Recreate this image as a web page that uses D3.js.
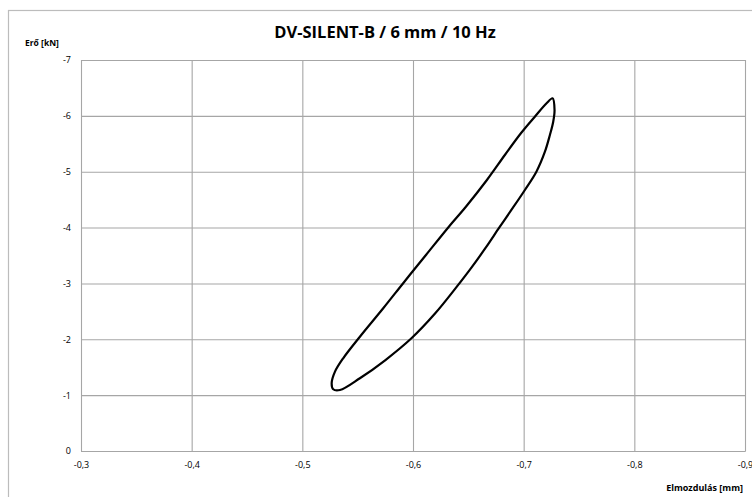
<!DOCTYPE html>
<html>
<head>
<meta charset="utf-8">
<script src="https://cdn.jsdelivr.net/npm/d3@7"></script>
<style>
  html, body { margin: 0; padding: 0; background: #fff; }
  svg { display: block; }
  text { font-family: "Open Sans", "Noto Sans", sans-serif; fill: #000; }
</style>
</head>
<body>
<svg id="chart" width="752" height="497"></svg>
<script>
// Hysteresis loop: displacement [mm] vs force [kN]
const xTicks = [-0.3, -0.4, -0.5, -0.6, -0.7, -0.8, -0.9];
const yTicks = [0, -1, -2, -3, -4, -5, -6, -7];

// Loop points, traced around one cycle (closed curve)
const displacement = [
  -0.7261, -0.7279, -0.7267, -0.7237, -0.7192, -0.7115, -0.7011, -0.6889,
  -0.6779, -0.6657, -0.6528, -0.6389, -0.6201, -0.5986, -0.5751, -0.5520,
  -0.5340, -0.5279, -0.5265, -0.5295, -0.5369, -0.5520, -0.5731, -0.5922,
  -0.6117, -0.6324, -0.6478, -0.6668, -0.6830, -0.6975, -0.7101, -0.7207
];
const force = [
  -6.314, -6.105, -5.895, -5.658, -5.358, -5.000, -4.673, -4.315,
  -3.998, -3.640, -3.282, -2.924, -2.465, -2.018, -1.629, -1.302,
  -1.092, -1.105, -1.212, -1.420, -1.660, -2.046, -2.555, -3.031,
  -3.509, -4.016, -4.374, -4.852, -5.299, -5.688, -5.985, -6.225
];

const svg = d3.select("#chart");
const plot = { left: 81, right: 745, top: 60, bottom: 451 };

const x = d3.scaleLinear().domain([-0.3, -0.9]).range([plot.left, plot.right]);
const y = d3.scaleLinear().domain([0, -7]).range([plot.bottom, plot.top]);

// outer chart frame (runs past the visible area on right and bottom)
svg.append("rect")
  .attr("x", 8.5).attr("y", 10.5)
  .attr("width", 800).attr("height", 600)
  .attr("fill", "none").attr("stroke", "#bcbcbc").attr("stroke-width", 1.2);

const fmt = v => d3.format(".1f")(v).replace(".", ",").replace("−", "-");
const fmtY = v => (v === 0 ? "0" : String(v));

// vertical gridlines + x axis labels
const xAxis = d3.axisBottom(x).tickValues(xTicks).tickSize(-(plot.bottom - plot.top)).tickFormat(fmt).tickPadding(9);
const gx = svg.append("g").attr("transform", `translate(0,${plot.bottom})`).call(xAxis);
gx.select(".domain").attr("stroke", "#a6a6a6");
gx.selectAll(".tick line").attr("stroke", "#a6a6a6").attr("stroke-width", 1.1);
gx.selectAll(".tick text").attr("font-size", 9).attr("font-family", "Open Sans, sans-serif").attr("fill", "#000").attr("dy", "0.9em");

// horizontal gridlines + y axis labels
const yAxis = d3.axisLeft(y).tickValues(yTicks).tickSize(-(plot.right - plot.left)).tickFormat(fmtY).tickPadding(10);
const gy = svg.append("g").attr("transform", `translate(${plot.left},0)`).call(yAxis);
gy.select(".domain").attr("stroke", "#a6a6a6");
gy.selectAll(".tick line").attr("stroke", "#a6a6a6").attr("stroke-width", 1.1);
gy.selectAll(".tick text").attr("font-size", 9).attr("font-family", "Open Sans, sans-serif").attr("fill", "#000");

// loop curve
const pts = displacement.map((d, i) => [d, force[i]]);
const line = d3.line()
  .x(d => x(d[0])).y(d => y(d[1]))
  .curve(d3.curveCatmullRomClosed.alpha(0.5));
svg.append("path")
  .attr("d", line(pts))
  .attr("fill", "none")
  .attr("stroke", "#000")
  .attr("stroke-width", 2.2)
  .attr("stroke-linejoin", "round");

// titles
svg.append("text")
  .attr("x", 385).attr("y", 38)
  .attr("text-anchor", "middle")
  .attr("font-size", 16.5).attr("font-weight", "bold")
  .text("DV-SILENT-B / 6 mm / 10 Hz");

svg.append("text")
  .attr("x", 25).attr("y", 46)
  .attr("font-size", 8.5).attr("font-weight", "bold")
  .text("Erő [kN]");

svg.append("text")
  .attr("x", 743).attr("y", 491)
  .attr("text-anchor", "end")
  .attr("font-size", 9).attr("font-weight", "bold")
  .text("Elmozdulás [mm]");
</script>
</body>
</html>
